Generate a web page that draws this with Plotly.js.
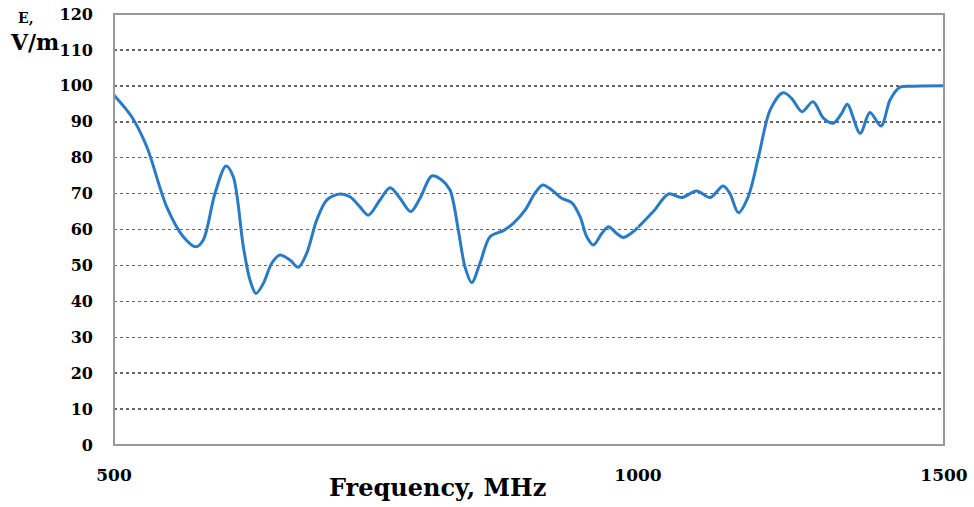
<!DOCTYPE html>
<html>
<head>
<meta charset="utf-8">
<script src="https://cdn.plot.ly/plotly-3.0.1.min.js"></script>
<style>html,body{margin:0;padding:0;background:#fff;}#chart{width:974px;height:507px;}</style>
</head>
<body>
<div id="chart"></div>
<script>
// Frequency (MHz) and field strength E (V/m)
const freqMHz = [500, 516.9, 531.2, 550.3, 566.1, 578.2, 585.2, 596.4, 606.9, 613.8,
  623.4, 629.8, 635.5, 642.5, 650.5, 658.4, 667.9, 675.9, 683.9, 693.4,
  703.0, 715.6, 725.2, 734.7, 742.7, 753.8, 763.4, 772.9, 783.1, 792.0,
  803.2, 812.7, 820.6, 828.5, 834.9, 841.3, 849.2, 858.8, 871.5, 881.0,
  892.2, 901.7, 909.1, 917.7, 927.2, 936.7, 944.7, 951.1, 957.4, 965.4,
  971.7, 979.7, 986.0, 995.5, 1000,
  1025, 1050, 1071, 1096, 1118, 1139, 1150, 1164, 1180, 1197,
  1216, 1237, 1251, 1268, 1286, 1303, 1319, 1333, 1342, 1363,
  1379, 1397, 1412, 1428, 1450, 1500];
const fieldVm = [97.4, 91.4, 83.1, 66.3, 58.0, 55.2, 57.1, 70.1, 77.7, 74.7,
  55.2, 45.9, 42.2, 45.0, 50.6, 52.9, 51.5, 49.5, 53.4, 62.6,
  68.2, 69.9, 69.1, 66.3, 64.0, 68.2, 71.6, 68.7, 65.0, 68.7,
  74.9, 73.8, 71.0, 59.9, 49.6, 45.2, 50.6, 58.0, 59.7, 61.7,
  65.4, 70.1, 72.4, 71.0, 68.7, 67.5, 63.6, 58.0, 55.7, 58.9,
  60.8, 58.9, 57.8, 59.4, 60.6,
  65.0, 69.9, 68.9, 70.7, 68.9, 72.1, 70.1, 64.7, 69.1, 80.3,
  93.3, 98.1, 96.5, 92.8, 95.6, 91.0, 89.6, 92.4, 94.9, 86.8,
  92.6, 88.8, 96.1, 99.6, 99.9, 100];

const xTickValsLow = [500, 1000];
const xTickTextLow = ['500', '1000'];
const xTickValsHigh = [1500];
const xTickTextHigh = ['1500'];
const yTickVals = [0, 10, 20, 30, 40, 50, 60, 70, 80, 90, 100, 110, 120];

// The reference axis is stretched differently on each side of 1000 MHz
const splitF = 1000;
const lowX = [], lowY = [], highX = [], highY = [];
freqMHz.forEach((f, i) => {
  if (f <= splitF) { lowX.push(f); lowY.push(fieldVm[i]); }
  if (f >= splitF) { highX.push(f); highY.push(fieldVm[i]); }
});

const lineStyle = {color: '#2a7bc6', width: 3, shape: 'spline', smoothing: 0.9};
const serif = 'DejaVu Serif';

const traces = [
  {x: lowX, y: lowY, xaxis: 'x', yaxis: 'y', mode: 'lines', line: lineStyle, hoverinfo: 'skip'},
  {x: highX, y: highY, xaxis: 'x2', yaxis: 'y', mode: 'lines', line: lineStyle, hoverinfo: 'skip'}
];

const split = 524 / 830;
const layout = {
  width: 974, height: 507,
  margin: {l: 114, r: 30, t: 14, b: 62},
  paper_bgcolor: '#fff', plot_bgcolor: '#fff',
  showlegend: false,
  xaxis: {
    domain: [0, split], range: [500, 1000], anchor: 'y',
    tickmode: 'array', tickvals: xTickValsLow, ticktext: xTickTextLow,
    showgrid: true, griddash: 'dot', gridcolor: '#555', gridwidth: 1.5,
    zeroline: false, showline: false, ticks: '', ticklabelstandoff: 18,
    tickfont: {family: serif, size: 17, color: '#000', weight: 'bold'}
  },
  xaxis2: {
    domain: [split, 1], range: [1000, 1500], anchor: 'y',
    tickmode: 'array', tickvals: xTickValsHigh, ticktext: xTickTextHigh,
    showgrid: false, zeroline: false, showline: false, ticks: '', ticklabelstandoff: 18,
    tickfont: {family: serif, size: 17, color: '#000', weight: 'bold'}
  },
  yaxis: {
    range: [0, 120], tickmode: 'array', tickvals: yTickVals,
    showgrid: true, griddash: 'dot', gridcolor: '#666', gridwidth: 1.5,
    zeroline: false, showline: false, ticks: '', ticklabelstandoff: 20,
    tickfont: {family: serif, size: 16, color: '#000', weight: 'bold'}
  },
  shapes: [
    {type: 'rect', xref: 'paper', yref: 'paper', x0: 0, x1: 1, y0: 0, y1: 1,
     line: {color: '#999', width: 2}, layer: 'above'}
  ],
  annotations: [
    {text: 'Frequency, MHz', xref: 'paper', yref: 'paper', x: 0.39, y: -0.099, showarrow: false,
     xanchor: 'center', yanchor: 'middle', font: {family: serif, size: 24, color: '#000', weight: 'bold'}},
    {text: 'E,', xref: 'paper', yref: 'paper', x: -0.106, y: 0.99, showarrow: false,
     xanchor: 'center', yanchor: 'middle', font: {family: serif, size: 14, color: '#000', weight: 'bold'}},
    {text: 'V/m', xref: 'paper', yref: 'paper', x: -0.096, y: 0.935, showarrow: false,
     xanchor: 'center', yanchor: 'middle', font: {family: serif, size: 22, color: '#000', weight: 'bold'}}
  ]
};

Plotly.newPlot('chart', traces, layout, {staticPlot: true, displayModeBar: false});
</script>
</body>
</html>
